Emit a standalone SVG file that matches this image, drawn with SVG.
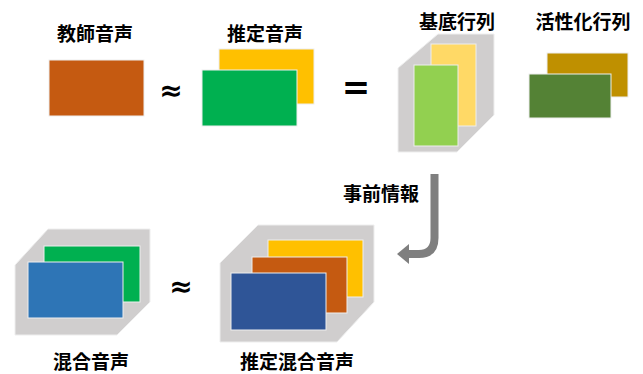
<svg xmlns="http://www.w3.org/2000/svg" width="643" height="374" viewBox="0 0 643 374">
<style>
.lbl{font-family:"Noto Sans CJK JP","Noto Sans CJK SC",sans-serif;font-weight:bold;font-size:19px;fill:#000;text-anchor:middle}
.sym{font-family:"DejaVu Sans",sans-serif;font-weight:bold;fill:#000;text-anchor:middle}
.r{stroke:#eeeeee;stroke-width:1}
.box{fill:#D0CECE;stroke:#eeeeee;stroke-width:1}
</style>
<rect width="643" height="374" fill="#fff"/>
<g id="teacher">
<text class="lbl" x="95" y="41">教師音声</text>
<rect class="r" x="49" y="60" width="95" height="56" fill="#C55A11"/>
</g>
<g id="approx1"><text class="sym" x="171" y="99.5" font-size="28">≈</text></g>
<g id="estimated">
<text class="lbl" x="265" y="41">推定音声</text>
<rect class="r" x="219" y="49" width="95" height="55" fill="#FFC000"/>
<rect class="r" x="202" y="70" width="95" height="56" fill="#00B050"/>
</g>
<g id="equals"><text class="sym" x="356" y="99" font-size="34">=</text></g>
<g id="basis">
<text class="lbl" x="457" y="29">基底行列</text>
<polygon class="box" points="398,68 438,34 494,34 494,115 457,152 398,152"/>
<rect class="r" x="431" y="44" width="45" height="82" fill="#FFD966"/>
<rect class="r" x="414" y="65" width="44" height="81" fill="#92D050"/>
</g>
<g id="activation">
<text class="lbl" x="583" y="29">活性化行列</text>
<rect class="r" x="547" y="53" width="81" height="44" fill="#BF9000"/>
<rect class="r" x="529" y="74" width="82" height="44" fill="#548235"/>
</g>
<g id="mixture">
<polygon class="box" points="15,265 48,229 150,229 150,302 117,335 15,335"/>
<rect class="r" x="44" y="246" width="96" height="56" fill="#00B050"/>
<rect class="r" x="28" y="262" width="95" height="56" fill="#2E75B6"/>
<text class="lbl" x="91" y="369">混合音声</text>
</g>
<g id="approx2"><text class="sym" x="181" y="296" font-size="28">≈</text></g>
<g id="estimated-mixture">
<polygon class="box" points="220,263 258,225 374,225 374,302 337,342 220,342"/>
<rect class="r" x="268" y="240" width="95" height="57" fill="#FFC000"/>
<rect class="r" x="252" y="257" width="95" height="56" fill="#C55A11"/>
<rect class="r" x="231" y="273" width="95" height="57" fill="#2F5597"/>
<text class="lbl" x="297" y="369">推定混合音声</text>
</g>
<g id="connectors">
<path d="M434.5,174 V238 Q434.5,254 419,254 H407" fill="none" stroke="#7F7F7F" stroke-width="8"/>
<polygon points="397,254 409,244 409,264" fill="#7F7F7F"/>
<text class="lbl" x="381" y="201">事前情報</text>
</g>
</svg>
